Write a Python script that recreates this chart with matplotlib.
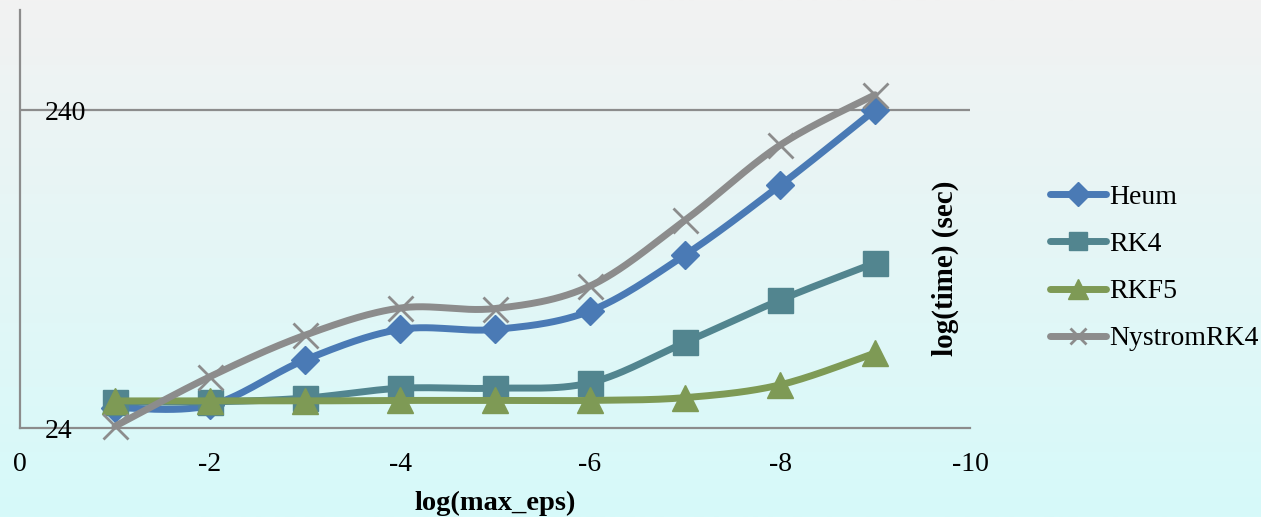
import numpy as np
import matplotlib
matplotlib.use("Agg")
import matplotlib.pyplot as plt
from matplotlib.lines import Line2D
from matplotlib.colors import LinearSegmentedColormap

# ---- data ----
eps = [-1, -2, -3, -4, -5, -6, -7, -8, -9]
heum = [27.8, 28.3, 39.3, 49.0, 49.0, 56.0, 84.0, 139.0, 240.0]
rk4 = [29.0, 29.0, 29.8, 32.0, 32.0, 33.3, 44.6, 60.6, 79.3]
rkf5 = [29.2, 29.2, 29.2, 29.3, 29.3, 29.3, 29.9, 32.8, 41.3]
nystrom = [24.3, 34.8, 47.0, 57.2, 57.0, 67.1, 108.0, 186.0, 268.0]
series_names = ["Heum", "RK4", "RKF5", "NystromRK4"]
x_ticks = [0, -2, -4, -6, -8, -10]
x_ticklabels = ["0", "-2", "-4", "-6", "-8", "-10"]
y_ticks = [24, 240]
y_ticklabels = ["24", "240"]

colors = ["#4a7ab5", "#52858f", "#7e9a55", "#8c8c8c"]
markers = ["D", "s", "^", "x"]
msizes = [14.5, 18, 19, 18]
leg_msizes = [12, 13, 14, 12]

FONT = "Liberation Serif"
FS = 20

plt.rcParams['font.family'] = [FONT, 'DejaVu Serif']

fig = plt.figure(figsize=(12.61, 5.17), dpi=100)

# background gradient
bg = fig.add_axes([0, 0, 1, 1], zorder=-10)
cmap = LinearSegmentedColormap.from_list("bg", ["#f2f2f2", "#d6fafa"])
bg.imshow(np.linspace(0, 1, 256).reshape(-1, 1), aspect="auto", cmap=cmap,
          extent=[0, 1, 0, 1])
bg.axis("off")

W, H = 1261, 517
ax = fig.add_axes([20 / W, 1 - 428 / H, 950 / W, 418 / H])
ax.set_facecolor("none")
ax.set_yscale("log")
ax.set_xlim(0, -10)
ax.set_ylim(24, 24 * 10 ** (418 / 318))

for s in ["top", "right"]:
    ax.spines[s].set_visible(False)
for s in ["left", "bottom"]:
    ax.spines[s].set_color("#8c8c8c")
    ax.spines[s].set_linewidth(1.6)

ax.axhline(240, color="#8c8c8c", lw=1.6, zorder=1)

ax.set_xticks(x_ticks)
ax.set_xticklabels(x_ticklabels, fontsize=FS)
ax.tick_params(axis="x", length=0, pad=17)
ax.set_yticks([])
ax.yaxis.set_minor_locator(matplotlib.ticker.NullLocator())
for v, lab in zip(y_ticks, y_ticklabels):
    ax.text(25 / 950, v, lab, transform=ax.get_yaxis_transform(),
            ha="left", va="center_baseline", fontsize=FS)

ax.set_xlabel("log(max_eps)", fontsize=FS + 0.5, fontweight="bold", labelpad=10)


def smooth(xs, ys, n=30):
    xs = np.asarray(xs, float)
    ly = np.log10(np.asarray(ys, float))
    P = np.column_stack([xs, ly])
    P = np.vstack([P[0], P, P[-1]])
    out = []
    for i in range(1, len(P) - 2):
        p0, p1, p2, p3 = P[i - 1], P[i], P[i + 1], P[i + 2]
        c1 = p1 + (p2 - p0) / 6
        c2 = p2 - (p3 - p1) / 6
        t = np.linspace(0, 1, n)[:, None]
        seg = ((1 - t) ** 3) * p1 + 3 * ((1 - t) ** 2) * t * c1 + 3 * (1 - t) * t ** 2 * c2 + t ** 3 * p2
        out.append(seg if i == 1 else seg[1:])
    out = np.vstack(out)
    return out[:, 0], 10 ** out[:, 1]


all_series = [heum, rk4, rkf5, nystrom]
handles = []
for k, (vals, c, m, ms, lms) in enumerate(zip(all_series, colors, markers, msizes, leg_msizes)):
    sx, sy = smooth(eps, vals)
    ax.plot(sx, sy, color=c, lw=5, solid_capstyle="round", zorder=3 + 2 * k, clip_on=False)
    if m == "x":
        ax.plot(eps, vals, ls="none", marker=m, ms=ms, mew=2, color=c, zorder=4 + 2 * k, clip_on=False)
    else:
        ax.plot(eps, vals, ls="none", marker=m, ms=ms, color=c, mec=c, zorder=4 + 2 * k, clip_on=False)
    handles.append(Line2D([], [], color=c, lw=5, solid_capstyle="round", marker=m,
                          ms=lms, mew=2 if m == "x" else 1, mec=c))

fig.text(945 / W, 1 - 268 / H, "log(time) (sec)", rotation=90, ha="center", va="center",
         fontsize=FS + 1, fontweight="bold")

leg = fig.legend(handles, series_names, loc="center left",
                 bbox_to_anchor=(1050 / W, 1 - 268 / H), frameon=False,
                 fontsize=FS, handlelength=2.0, handletextpad=0.12, labelspacing=0.78,
                 borderpad=0, borderaxespad=0)

fig.savefig("out.png", dpi=100)
